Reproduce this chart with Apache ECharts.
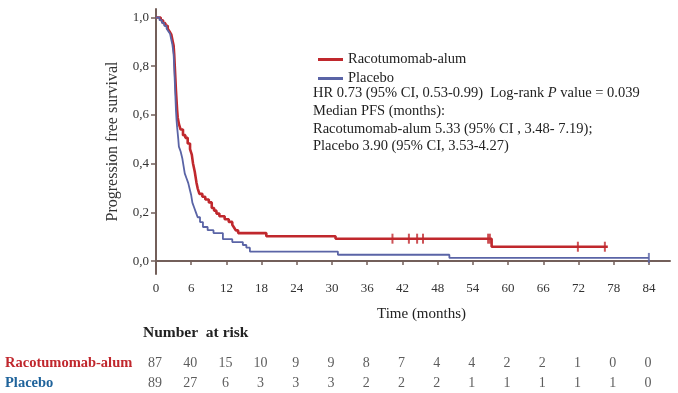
<!DOCTYPE html>
<html><head><meta charset="utf-8">
<script src="https://cdn.jsdelivr.net/npm/echarts@6/dist/echarts.min.js"></script>
<style>html,body{margin:0;padding:0;background:#fff}#c{width:678px;height:393px}</style>
</head><body><div id="c"></div>
<script>
// Kaplan-Meier step data (time in months, survival)
const redT = [0,0.8,1.2,1.6,2.0,2.3,2.6,2.8,3.0,3.1,3.2,3.3,3.4,3.5,3.6,3.7,3.9,4.2,4.6,5.0,5.4,5.8,6.1,6.3,6.6,6.9,7.1,7.4,7.9,8.4,9.0,9.5,9.9,10.3,10.8,11.7,12.4,13.0,13.3,13.6,14.0,18.8,30.6,57.2,77.0];
const redS = [1.0,0.989,0.977,0.966,0.954,0.943,0.931,0.908,0.885,0.85,0.80,0.75,0.70,0.66,0.62,0.59,0.563,0.540,0.517,0.506,0.483,0.460,0.437,0.402,0.368,0.322,0.299,0.276,0.264,0.253,0.241,0.218,0.207,0.195,0.184,0.172,0.161,0.149,0.138,0.126,0.115,0.102,0.092,0.059,0.059];
const blueT = [0,0.6,1.0,1.4,1.8,2.1,2.4,2.6,2.8,3.0,3.1,3.2,3.3,3.4,3.5,3.6,3.8,3.9,4.2,4.5,4.7,4.9,5.2,5.5,5.8,6.0,6.2,6.5,6.8,7.1,7.5,8.0,8.8,9.8,11.4,13.0,14.8,15.4,16.0,31.0,50.0,84.0];
const blueS = [1.0,0.989,0.978,0.966,0.955,0.944,0.933,0.910,0.888,0.85,0.80,0.74,0.68,0.62,0.58,0.55,0.50,0.47,0.45,0.42,0.39,0.36,0.34,0.32,0.29,0.27,0.24,0.22,0.20,0.18,0.16,0.14,0.127,0.115,0.090,0.078,0.066,0.055,0.039,0.026,0.013,0.013];
const redCensorT = [40.3,43.1,44.5,45.5,56.6,56.9,71.9,76.5];
const redCensorS = [0.092,0.092,0.092,0.092,0.092,0.092,0.059,0.059];
const blueCensorT = [84.0];
const blueCensorS = [0.013];
// Number at risk table
const riskTimes = [0,6,12,18,24,30,36,42,48,54,60,66,72,78,84];
const riskRaco = [87,40,15,10,9,9,8,7,4,4,2,2,1,0,0];
const riskPlacebo = [89,27,6,3,3,3,2,2,2,1,1,1,1,1,0];
// Tick labels
const yTicks = [0,0.2,0.4,0.6,0.8,1.0];
const xTicks = [0,6,12,18,24,30,36,42,48,54,60,66,72,78,84];
const groupNames = ['Racotumomab-alum','Placebo'];

const RED = '#c0282d', BLUE = '#5a64a6', AX = '#735f5a';
const SERIF = '"Liberation Serif", "Times New Roman", serif';
const zip = (a, b) => a.map((v, i) => [v, b[i]]);

const chart = echarts.init(document.getElementById('c'), null, {renderer: 'canvas'});
const riskData = [];
riskTimes.forEach((t, i) => {
  riskData.push([t, groupNames[0], riskRaco[i]]);
  riskData.push([t, groupNames[1], riskPlacebo[i]]);
});
chart.setOption({
  animation: false,
  backgroundColor: '#fff',
  grid: [
    {left: 156, top: 9, width: 514, height: 265},
    {left: 155, top: 353, width: 514, height: 40}
  ],
  xAxis: [{
    gridIndex: 0, type: 'value', min: 0, max: 87.6,
    splitLine: {show: false},
    axisLine: {lineStyle: {color: AX, width: 2}},
    axisTick: {customValues: xTicks, length: 4, lineStyle: {color: AX, width: 1.5}},
    axisLabel: {customValues: xTicks, color: '#333', fontFamily: SERIF, fontSize: 13, margin: 8}
  }, {
    gridIndex: 1, type: 'value', min: 0, max: 87.6, show: false
  }],
  yAxis: [{
    gridIndex: 0, type: 'value', min: -0.053, max: 1.035,
    splitLine: {show: false},
    axisLine: {show: true, lineStyle: {color: AX, width: 2}},
    axisTick: {show: true, customValues: yTicks, length: 5, lineStyle: {color: AX, width: 1.5}},
    axisLabel: {customValues: yTicks, color: '#333', fontFamily: SERIF, fontSize: 13, margin: 7,
      formatter: v => v.toFixed(1).replace('.', ',')},
    name: 'Progression free survival', nameLocation: 'middle', nameGap: 35, nameRotate: 90,
    nameTextStyle: {fontFamily: SERIF, fontSize: 16, color: '#333'}
  }, {
    gridIndex: 1, type: 'category', data: [groupNames[1], groupNames[0]],
    axisLine: {show: false}, axisTick: {show: false}, splitLine: {show: false},
    axisLabel: {interval: 0, hideOverlap: false, align: 'left', margin: 150, fontFamily: SERIF, fontWeight: 'bold', fontSize: 14.5,
      formatter: v => v === groupNames[0] ? '{r|' + v + '}' : '{b|' + v + '}',
      rich: {r: {color: '#c0272d', fontFamily: SERIF, fontWeight: 'bold', fontSize: 14.5},
             b: {color: '#1f639b', fontFamily: SERIF, fontWeight: 'bold', fontSize: 14.5}}}
  }],
  legend: {
    data: groupNames, orient: 'vertical', left: 313, top: 47, icon: 'rect',
    itemWidth: 25, itemHeight: 3, itemGap: 4,
    textStyle: {fontFamily: SERIF, fontSize: 14.5, color: '#222', lineHeight: 14}
  },
  series: [
    {name: groupNames[0], type: 'line', step: 'end', symbol: 'none', data: zip(redT, redS),
      lineStyle: {color: RED, width: 2.6}, itemStyle: {color: RED}, z: 3},
    {name: groupNames[1], type: 'line', step: 'end', symbol: 'none', data: zip(blueT, blueS),
      lineStyle: {color: BLUE, width: 1.8}, itemStyle: {color: BLUE}, z: 4},
    {name: 'redCensor', type: 'scatter', symbol: 'rect', symbolSize: [2, 10], data: zip(redCensorT, redCensorS),
      itemStyle: {color: RED}, z: 5},
    {name: 'blueCensor', type: 'scatter', symbol: 'rect', symbolSize: [2, 10], data: zip(blueCensorT, blueCensorS),
      itemStyle: {color: BLUE}, z: 5},
    {name: 'risk', type: 'scatter', xAxisIndex: 1, yAxisIndex: 1, symbolSize: 0, data: riskData,
      label: {show: true, position: 'inside', formatter: p => String(p.value[2]),
        fontFamily: SERIF, fontSize: 14, color: '#333'}}
  ],
  graphic: [
    {type: 'text', left: 313, top: 86, style: {text: 'HR 0.73 (95% CI, 0.53-0.99)  Log-rank {i|P} value = 0.039',
      fontFamily: SERIF, fontSize: 14.5, fill: '#222', rich: {i: {fontStyle: 'italic', fontFamily: SERIF, fontSize: 14.5, fill: '#222'}}}},
    {type: 'text', left: 313, top: 104, style: {text: 'Median PFS (months):', fontFamily: SERIF, fontSize: 14.5, fill: '#222'}},
    {type: 'text', left: 313, top: 122, style: {text: 'Racotumomab-alum 5.33 (95% CI , 3.48- 7.19);', fontFamily: SERIF, fontSize: 14.5, fill: '#222'}},
    {type: 'text', left: 313, top: 139, style: {text: 'Placebo 3.90 (95% CI, 3.53-4.27)', fontFamily: SERIF, fontSize: 14.5, fill: '#222'}},
    {type: 'text', left: 377, top: 307, style: {text: 'Time (months)', fontFamily: SERIF, fontSize: 15, fill: '#222'}},
    {type: 'text', left: 143, top: 325, style: {text: 'Number  at risk', fontFamily: SERIF, fontSize: 15.5, fontWeight: 'bold', fill: '#222'}}
  ]
});
</script></body></html>
